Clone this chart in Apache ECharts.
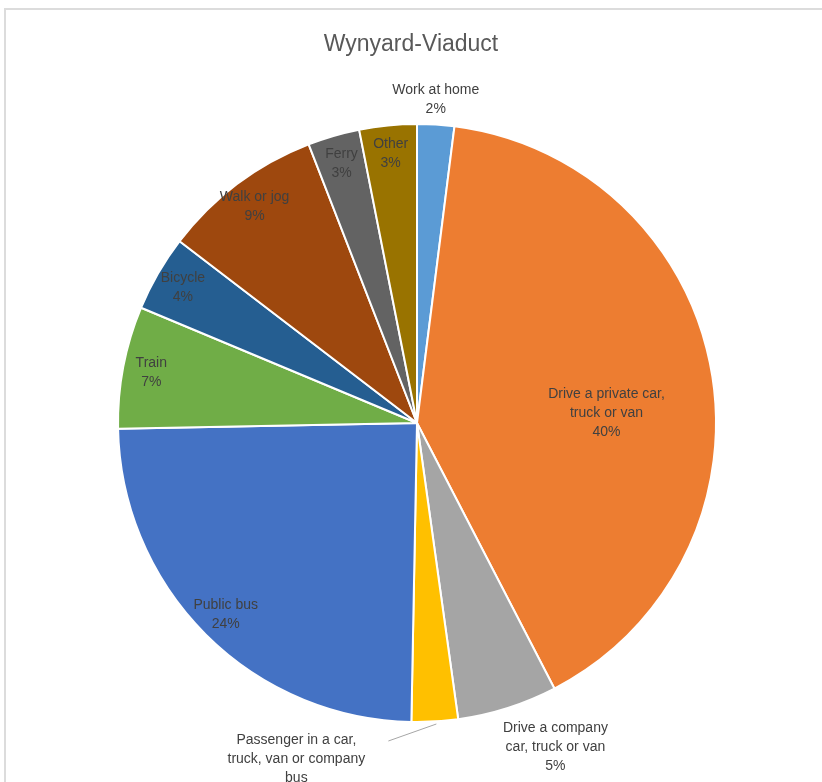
<!DOCTYPE html>
<html>
<head>
<meta charset="utf-8">
<title>Wynyard-Viaduct</title>
<script src="https://cdn.jsdelivr.net/npm/echarts@6/dist/echarts.min.js"></script>
<style>
  html, body { margin: 0; padding: 0; overflow: hidden; background: #fff; }
  /* chart area border, runs off the right and bottom like the original */
  #frame { position: absolute; left: 4px; top: 8px; width: 900px; height: 900px; border: 2px solid #dcdcdc; }
  #main { position: absolute; left: 0; top: 0; width: 822px; height: 782px; }
</style>
</head>
<body>
<div id="frame"></div>
<div id="main"></div>
<script>
// travel mode categories, clockwise from 12 o'clock
var categories = [
  'Work at home',
  'Drive a private car,\ntruck or van',
  'Drive a company\ncar, truck or van',
  'Passenger in a car,\ntruck, van or company\nbus',
  'Public bus',
  'Train',
  'Bicycle',
  'Walk or jog',
  'Ferry',
  'Other'
];
// share of trips (%)
var shares = [2.0, 40.4, 5.4, 2.5, 24.4, 6.6, 4.1, 8.7, 2.8, 3.1];

var sliceColors = ['#5b9bd5', '#ed7d31', '#a5a5a5', '#ffc000', '#4472c4',
  '#70ad47', '#255e91', '#9e480e', '#636363', '#997300'];

var FONT = '"Liberation Sans", Arial, sans-serif';
var CENTER = [417, 423];
var R = 299;

function fmt(p) {
  return p.name + '\n' + Math.round(p.percent) + '%';
}

var labelText = {
  color: '#404040',
  fontFamily: FONT,
  fontSize: 14,
  lineHeight: 19,
  formatter: fmt
};

// labels outside the pie: work at home, company car, passenger
var outsideIdx = [0, 2, 3];
// labels near the rim: public bus .. other
var rimIdx = [4, 5, 6, 7, 8, 9];
// label in the middle of the big slice
var midIdx = [1];

function buildData(showIdx, extra) {
  return categories.map(function (c, i) {
    var item = { name: c, value: shares[i] };
    item.label = { show: showIdx.indexOf(i) >= 0 };
    if (extra) extra(item, i);
    return item;
  });
}

var mainData = buildData(outsideIdx, function (item, i) {
  item.itemStyle = { color: sliceColors[i] };
  item.label.position = 'outside';
  item.labelLine = {
    show: i === 3,
    length: 10,
    length2: 10,
    lineStyle: { color: '#a6a6a6', width: 1 }
  };
});

var ghost = { color: 'rgba(0,0,0,0)', borderWidth: 0 };

var chart = echarts.init(document.getElementById('main'));
var option = {
  animation: false,
  title: {
    text: 'Wynyard-Viaduct',
    left: 'center',
    top: 33,
    padding: 0,
    textStyle: {
      color: '#595959',
      fontFamily: FONT,
      fontSize: 23,
      fontWeight: 'normal'
    }
  },
  series: [
    {
      type: 'pie',
      center: CENTER,
      radius: R,
      startAngle: 90,
      clockwise: true,
      avoidLabelOverlap: false,
      emphasis: { disabled: true },
      itemStyle: { borderColor: '#ffffff', borderWidth: 2 },
      label: labelText,
      labelLayout: function (p) {
        var r = p.rect;
        var bottom = r.y + r.height;
        if (p.dataIndex === 0) {
          return { x: r.x + r.width / 2, y: r.y - 23, align: 'center', verticalAlign: 'middle' };
        }
        if (p.dataIndex === 2) {
          return { x: r.x + r.width, y: bottom + 27, align: 'center', verticalAlign: 'middle' };
        }
        if (p.dataIndex === 3) {
          return {
            x: r.x - 114, y: bottom + 46, align: 'center', verticalAlign: 'middle',
            labelLinePoints: [
              [r.x + 26, bottom + 1],
              [r.x - 22, bottom + 18],
              [r.x - 22, bottom + 18]
            ]
          };
        }
        return {};
      },
      data: mainData
    },
    {
      // transparent ring that only carries the labels near the rim
      type: 'pie',
      center: CENTER,
      radius: [236, R],
      startAngle: 90,
      clockwise: true,
      silent: true,
      z: 3,
      avoidLabelOverlap: false,
      itemStyle: ghost,
      label: Object.assign({ position: 'inside' }, labelText),
      labelLine: { show: false },
      data: buildData(rimIdx)
    },
    {
      type: 'pie',
      center: CENTER,
      radius: [80, R],
      startAngle: 90,
      clockwise: true,
      silent: true,
      z: 3,
      avoidLabelOverlap: false,
      itemStyle: ghost,
      label: Object.assign({ position: 'inside' }, labelText),
      labelLine: { show: false },
      labelLayout: { dy: 24 },
      data: buildData(midIdx)
    }
  ]
};
chart.setOption(option);
</script>
</body>
</html>
